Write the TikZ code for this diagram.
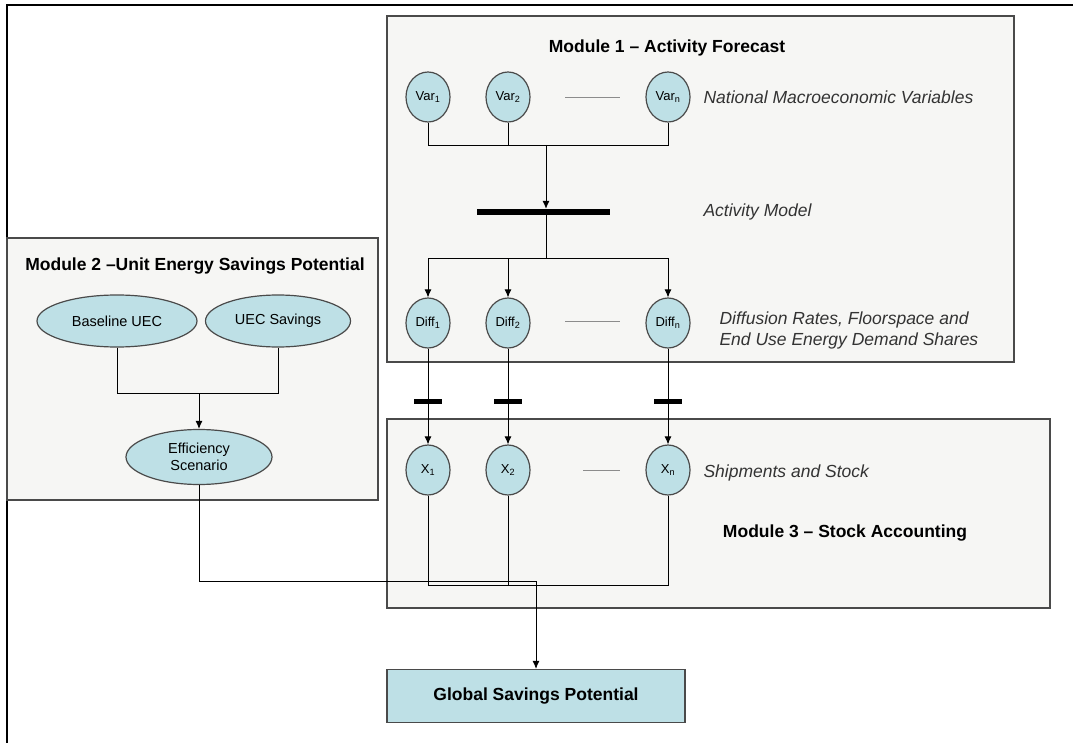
\documentclass[tikz,border=0pt]{standalone}
\usepackage{fontspec}
\setmainfont{Liberation Sans}
\usetikzlibrary{shapes.geometric,arrows.meta}

\definecolor{nodeblue}{HTML}{BEE0E6}
\definecolor{boxgray}{HTML}{F6F6F4}
\definecolor{edgegray}{HTML}{4A4A4A}

\tikzset{
  var/.style={ellipse,draw=edgegray,fill=nodeblue,line width=1.2pt,
    minimum width=44pt,minimum height=50pt,inner sep=0pt,
    font=\fontsize{13}{13}\selectfont},
  oval/.style={ellipse,draw=edgegray,fill=nodeblue,line width=1.2pt,
    minimum height=52pt,inner sep=0pt,align=center,
    font=\fontsize{14.5}{17}\selectfont},
  module/.style={draw=edgegray,fill=boxgray,line width=1.1pt},
  modtitle/.style={font=\fontsize{17.5}{20}\selectfont\bfseries},
  note/.style={anchor=west,align=left,text=black!80,
    font=\fontsize{17.5}{21}\selectfont\itshape},
  bar/.style={fill=black,minimum height=6pt,inner sep=0pt},
  gate/.style={fill=black,minimum width=28pt,minimum height=5pt,inner sep=0pt},
  more/.style={draw=black!45,line width=0.8pt},
  link/.style={line width=0.9pt}
}

\begin{document}
\begin{tikzpicture}[x=1pt,y=-1pt,>={Latex[length=8pt,width=7pt]},node distance=80pt]
    \useasboundingbox (0,0) rectangle (1073,743);
    \draw[line width=1.2pt] (7,743) -- (7,5) -- (1073,5);

    % module frames
    \draw[module] (387,16) rectangle (1014,362);
    \draw[module] (7,238) rectangle (378,500);
    \draw[module] (387,419) rectangle (1050,608);

    \node[modtitle] (t1) at (667,48) {Module 1 -- Activity Forecast};
    \node[modtitle] (t2) at (195,266) {Module 2 --Unit Energy Savings Potential};
    \node[modtitle] (t3) at (845,533) {Module 3 -- Stock Accounting};

    % module 1
    \node[var] (v1) at (428,97) {Var\textsubscript{1}};
    \node[var,right of=v1] (v2) {Var\textsubscript{2}};
    \node[var,right of=v2,xshift=80pt] (vn) {Var\textsubscript{n}};
    \node[note] (n1) at (700,97) {National Macroeconomic Variables};

    \node[bar,minimum width=133pt] (model) at (543,212) {};
    \node[note] (n2) at (700,212) {Activity Model};

    \node[var,below of=v1,yshift=-146pt] (d1) {Diff\textsubscript{1}};
    \node[var,right of=d1] (d2) {Diff\textsubscript{2}};
    \node[var,right of=d2,xshift=80pt] (dn) {Diff\textsubscript{n}};
    \node[note] (n3) at (716,330) {Diffusion Rates, Floorspace and\\End Use Energy Demand Shares};

    \draw[more] (565,97) -- (620,97);
    \draw[more] (565,321) -- (620,321);

    \coordinate (join1) at (546,145);
    \coordinate (join2) at (546,258);
    \draw[link] (v1) -- (v1 |- join1) -| (vn);
    \draw[link] (v2) -- (v2 |- join1);
    \draw[link,->] (join1) -- (join1 |- model.north);
    \draw[link] (join2 |- model.south) -- (join2);
    \draw[link,->] (join2) -| (d1);
    \draw[link,->] (join2) -| (d2);
    \draw[link,->] (join2) -| (dn);

    % module 3
    \node[var,below of=d1,yshift=-67pt] (x1) {X\textsubscript{1}};
    \node[var,right of=x1] (x2) {X\textsubscript{2}};
    \node[var,right of=x2,xshift=80pt] (xn) {X\textsubscript{n}};
    \node[note] (n4) at (700,473) {Shipments and Stock};
    \draw[more] (583,470) -- (620,470);

    \draw[link,->] (d1) -- node[gate,pos=0.55] {} (x1);
    \draw[link,->] (d2) -- node[gate,pos=0.55] {} (x2);
    \draw[link,->] (dn) -- node[gate,pos=0.55] {} (xn);

    % module 2
    \node[oval,minimum width=160pt] (base) at (117,321) {Baseline UEC};
    \node[oval,minimum width=145pt] (save) at (278,321) {UEC Savings};
    \node[oval,minimum width=146pt,minimum height=55pt] (eff) at (199,457) {Efficiency\\Scenario};

    \coordinate (join3) at (199,393);
    \draw[link] (base) -- (base |- join3) -| (save);
    \draw[link,->] (join3) -- (eff);

    % totals
    \node[draw=edgegray,fill=nodeblue,line width=1.2pt,minimum width=298pt,
      minimum height=53pt,modtitle] (global) at (536,696) {Global Savings Potential};

    \coordinate (xbus) at (668,585);
    \coordinate (turn) at (536,581);
    \draw[link] (x1) -- (x1 |- xbus) -- (xbus) -- (xn);
    \draw[link] (x2) -- (x2 |- xbus);
    \draw[link] (eff) |- (turn);
    \draw[link,->] (turn) -- (global);
\end{tikzpicture}
\end{document}
